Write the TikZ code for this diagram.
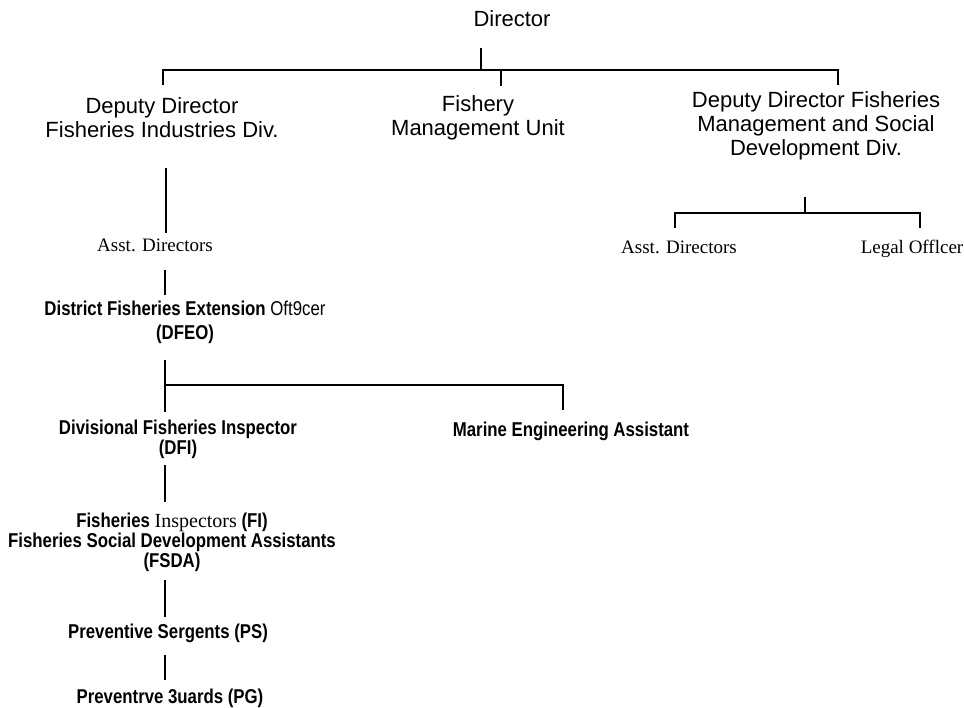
\documentclass[tikz,border=0pt]{standalone}
\usepackage{fontspec}
\setmainfont{Liberation Sans}
\newfontfamily\serifface{Liberation Serif}
\newfontfamily\narrowface[FakeStretch=0.84]{Liberation Sans}
\tikzset{
    link/.style={draw,line width=1.8pt},
    head/.style={font=\fontsize{22}{24}\selectfont,align=center,inner sep=0pt,anchor=base},
    sub/.style={font=\serifface\fontsize{19}{22}\selectfont,inner sep=0pt,anchor=base},
    rank/.style={font=\narrowface\bfseries\fontsize{20}{20}\selectfont,align=center,inner sep=0pt,anchor=base}
}

\begin{document}
\begin{tikzpicture}[x=1pt,y=-1pt]
\useasboundingbox (0,0) rectangle (964,708);

% Heads (placed at the baseline of their last line)
\node[head] (dir) at (512,27) {Director};
\node[head] (ddi) at (162,138) {Deputy Director\\Fisheries Industries Div.};
\node[head] (fmu) at (478,136) {Fishery\\Management Unit};
\node[head] (ddm) at (816,156) {Deputy Director Fisheries\\Management and Social\\Development Div.};

% Assistants
\node[sub] (ad1) at (155,252) {Asst. Directors};
\node[sub] (ad2) at (679,254) {Asst. Directors};
\node[sub] (lo) at (912,254) {Legal Offlcer};

% Field staff
\node[rank] (dfeo) at (185,340) {District Fisheries Extension {\mdseries Oft9cer}\\[4pt](DFEO)};
\node[rank] (dfi) at (178,454) {Divisional Fisheries Inspector\\(DFI)};
\node[rank] (mea) at (571,437) {Marine Engineering Assistant};
\node[rank] (fi) at (172,567) {Fisheries {\serifface\mdseries Inspectors} (FI)\\Fisheries Social Development Assistants\\(FSDA)};
\node[rank] (ps) at (168,638) {Preventive Sergents (PS)};
\node[rank] (pg) at (170,703) {Preventrve 3uards (PG)};

% Junctions
\coordinate (t0) at (481,48);
\coordinate (j0) at (481,70);
\coordinate (b1) at (163,85);
\coordinate (b2) at (501,86);
\coordinate (b3) at (838,85);
\coordinate (t1) at (805,197);
\coordinate (j1) at (805,213);
\coordinate (b4) at (675,228);
\coordinate (b5) at (920,228);
\coordinate (ddi-ad) at (166,168);
\coordinate (ad-ddi) at (166,233);
\coordinate (ad-dfeo) at (165,270);
\coordinate (dfeo-ad) at (165,295);
\coordinate (dfeo-top) at (165,360);
\coordinate (dfi-top) at (165,412);
\coordinate (j2) at (165,385);
\coordinate (mea-top) at (563,410);
\coordinate (dfi-fi) at (165,465);
\coordinate (fi-dfi) at (165,502);
\coordinate (fi-ps) at (165,580);
\coordinate (ps-fi) at (165,617);
\coordinate (ps-pg) at (165,655);
\coordinate (pg-ps) at (165,680);

% Connectors
\draw[link] (t0) -- (j0);
\draw[link] (b1) |- (j0) -| (b3);
\draw[link] (b2 |- j0) -- (b2);
\draw[link] (t1) -- (j1);
\draw[link] (b4) |- (j1) -| (b5);
\draw[link] (ddi-ad) -- (ad-ddi);
\draw[link] (ad-dfeo) -- (dfeo-ad);
\draw[link] (dfeo-top) -- (dfi-top);
\draw[link] (j2) -| (mea-top);
\draw[link] (dfi-fi) -- (fi-dfi);
\draw[link] (fi-ps) -- (ps-fi);
\draw[link] (ps-pg) -- (pg-ps);

\end{tikzpicture}
\end{document}
